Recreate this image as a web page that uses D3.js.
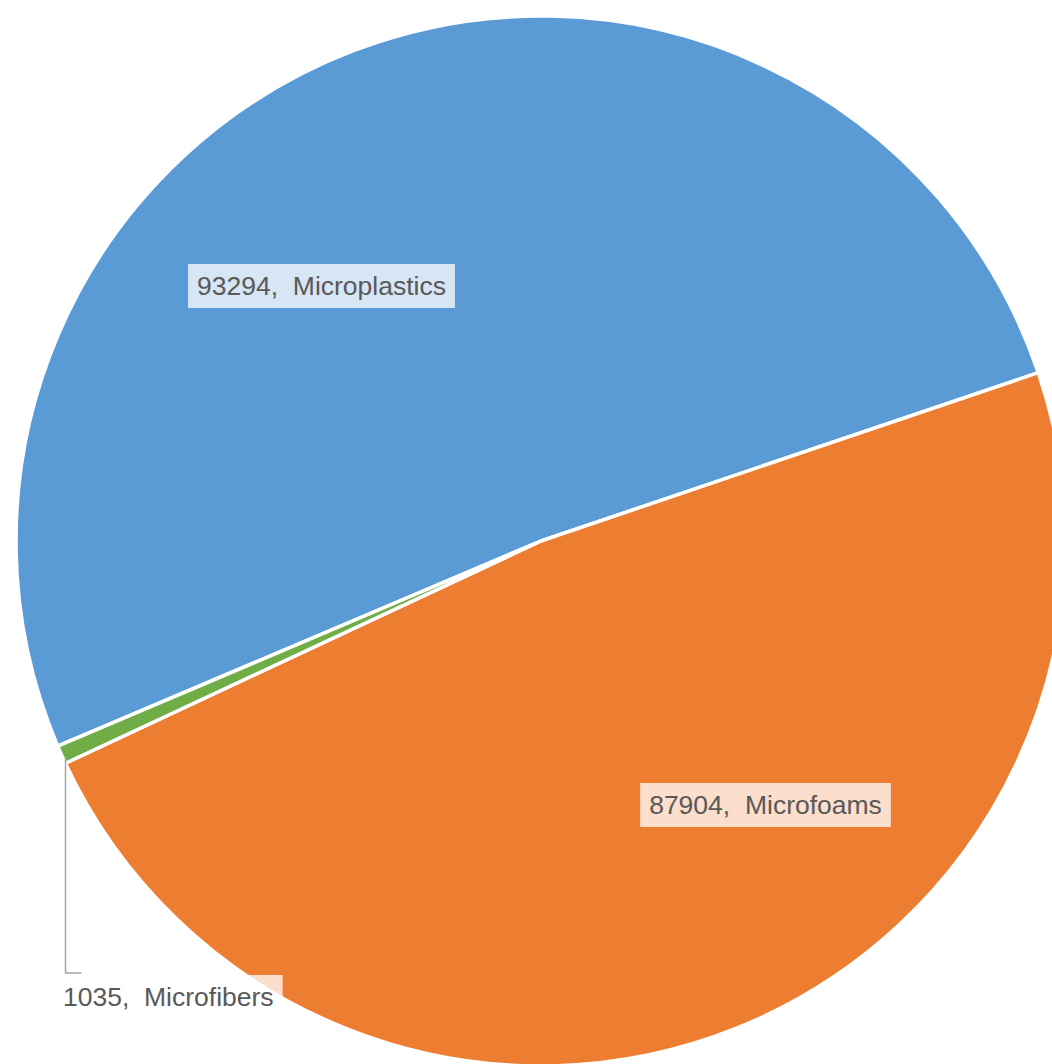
<!DOCTYPE html>
<html>
<head>
<meta charset="utf-8">
<script src="https://cdn.jsdelivr.net/npm/d3@7"></script>
<style>
  html, body { margin: 0; padding: 0; background: #fff; }
  svg { display: block; }
  text { white-space: pre; }
</style>
</head>
<body>
<svg id="chart" width="1052" height="1064"></svg>
<script>
// ---- data ----
const categories = ["Microplastics", "Microfoams", "Microfibers"];
const values = [93294, 87904, 1035];
const colors = ["#5B9BD5", "#ED7D31", "#70AD47"];

// ---- layout ----
const W = 1052, H = 1064;
const cx = 541, cy = 541, R = 525;
const startDeg = -113.0;
// label box centers (Excel "best fit" placement)
const labelLayout = [
  { x: 321.5, y: 286, anchor: "middle" },
  { x: 765.5, y: 805, anchor: "middle" },
  { x: 63, y: 997, anchor: "start", leaderX: 65.5 }
];
const fontSize = 26.5;

const svg = d3.select("#chart");
const g = svg.append("g").attr("transform", `translate(${cx},${cy})`);

const data = categories.map((c, i) => ({ name: c, value: values[i], color: colors[i] }));
const s0 = startDeg * Math.PI / 180;
const pie = d3.pie().sort(null).value(d => d.value).startAngle(s0).endAngle(s0 + 2 * Math.PI);
const arcs = pie(data);
const arc = d3.arc().innerRadius(0).outerRadius(R);

g.selectAll("path.slice")
  .data(arcs)
  .join("path")
  .attr("class", "slice")
  .attr("d", arc)
  .attr("fill", d => d.data.color)
  .attr("stroke", "#fff")
  .attr("stroke-width", 3.5)
  .attr("stroke-linejoin", "round");

// leader line for small slice
const small = arcs[2];
const midA = (small.startAngle + small.endAngle) / 2;
const ey = cy - Math.cos(midA) * (R + 4);
const lblG = svg.append("g");

arcs.forEach((a, i) => {
  const L = labelLayout[i];
  const txt = `${a.data.value},  ${a.data.name}`;
  const grp = lblG.append("g");
  const t = grp.append("text")
    .attr("x", L.x)
    .attr("y", L.y)
    .attr("text-anchor", L.anchor)
    .attr("dominant-baseline", "central")
    .attr("xml:space", "preserve")
    .attr("font-family", "'Liberation Sans', Arial, sans-serif")
    .attr("font-size", fontSize)
    .attr("fill", "#595959")
    .text(txt);
  const bb = t.node().getBBox();
  grp.insert("rect", "text")
    .attr("x", bb.x - 9)
    .attr("y", L.y - 22)
    .attr("width", bb.width + 18)
    .attr("height", 44)
    .attr("fill", "#fff")
    .attr("fill-opacity", 0.75);
  if (L.leaderX) {
    const lx = L.leaderX;
    lblG.insert("path", ":first-child")
      .attr("d", `M${lx},${ey} L${lx},${L.y - 24} L${lx + 16},${L.y - 24}`)
      .attr("fill", "none")
      .attr("stroke", "#a6a6a6")
      .attr("stroke-width", 1.5);
  }
});
</script>
</body>
</html>
